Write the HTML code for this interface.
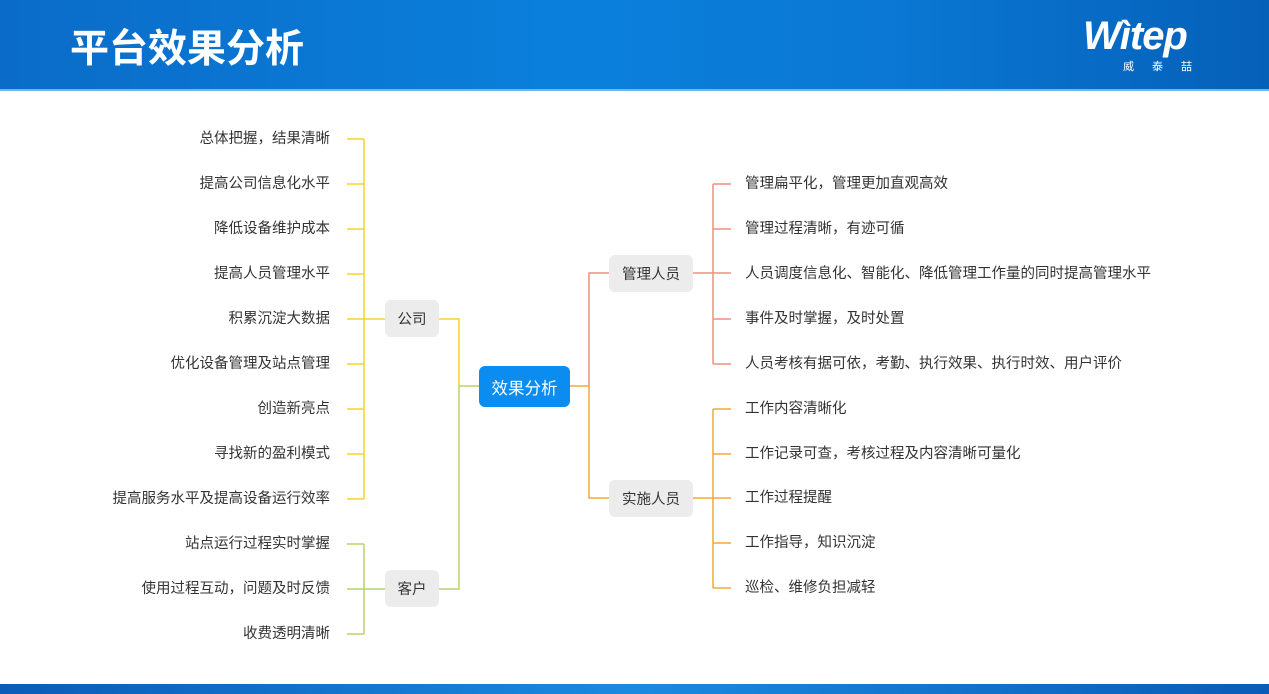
<!DOCTYPE html>
<html><head><meta charset="utf-8"><style>
*{margin:0;padding:0;box-sizing:border-box}
body{width:1269px;height:694px;position:relative;background:#fff;overflow:hidden;font-family:"Liberation Sans","Noto Sans CJK SC",sans-serif;}
.hdr{position:absolute;left:0;top:0;width:1269px;height:91px;background:linear-gradient(90deg,#0a6cc8 0%,#0a80dc 45%,#0a78d4 70%,#0560b8 100%);}
.hdr:after{content:"";position:absolute;left:0;bottom:0;width:100%;height:2px;background:#6fb8ee}
.title{position:absolute;left:70px;top:18px;color:#fff;font-size:39px;font-weight:bold;letter-spacing:0px;font-family:"Noto Sans CJK SC",sans-serif;}
.logo{position:absolute;left:1083px;top:14px;color:#fff;font-size:40px;font-weight:bold;font-style:italic;letter-spacing:-1px}
.logo2{position:absolute;left:1123px;top:58px;color:#fff;font-size:11px;letter-spacing:18px}
.ftr{position:absolute;left:0;top:684px;width:1269px;height:10px;background:linear-gradient(90deg,#0a5cb8,#1a8ae0,#0a5cb8)}
.t{position:absolute;font-size:14.5px;color:#333;line-height:20px;white-space:nowrap}
.l{text-align:right;right:939px}
.r{left:745px}
.box{position:absolute;background:#ececec;border-radius:6px;font-size:14.5px;color:#333;display:flex;align-items:center;justify-content:center}
.ctr{position:absolute;left:479px;top:366px;width:91px;height:41px;background:#0a8cf0;border-radius:6px;color:#fff;font-size:16.5px;display:flex;align-items:center;justify-content:center}
</style></head><body>
<div class="hdr"></div>
<div class="title">平台效果分析</div>
<div class="logo">Wìtep</div>
<div class="logo2">威泰喆</div>
<div class="ftr"></div>
<svg width="1269" height="694" style="position:absolute;left:0;top:0" fill="none" stroke-width="1.5">
<g stroke="#f5d327">
<line x1="364" y1="139" x2="364" y2="499"/>
<path d="M347 139H364M347 184H364M347 229H364M347 274H364M347 319H385M347 364H364M347 409H364M347 454H364M347 499H364"/>
<path d="M439 319H459V386"/>
</g>
<g stroke="#b8d36a">
<line x1="364" y1="544" x2="364" y2="634"/>
<path d="M347 544H364M347 589H385M347 634H364"/>
<path d="M459 386V589H439M459 386H479"/>
</g>
<g stroke="#ef8f80">
<path d="M589 386V273H609"/>
<line x1="713" y1="184" x2="713" y2="364"/>
<path d="M693 273H731M713 184H731M713 229H731M713 319H731M713 364H731"/>
</g>
<g stroke="#f5a833">
<path d="M570 386H589V498H609"/>
<line x1="713" y1="409" x2="713" y2="588"/>
<path d="M693 498H731M713 409H731M713 454H731M713 543H731M713 588H731"/>
</g>
</svg>
<div class="t l" style="top:129px">总体把握，结果清晰</div>
<div class="t l" style="top:174px">提高公司信息化水平</div>
<div class="t l" style="top:219px">降低设备维护成本</div>
<div class="t l" style="top:264px">提高人员管理水平</div>
<div class="t l" style="top:309px">积累沉淀大数据</div>
<div class="t l" style="top:354px">优化设备管理及站点管理</div>
<div class="t l" style="top:399px">创造新亮点</div>
<div class="t l" style="top:444px">寻找新的盈利模式</div>
<div class="t l" style="top:489px">提高服务水平及提高设备运行效率</div>
<div class="t l" style="top:534px">站点运行过程实时掌握</div>
<div class="t l" style="top:579px">使用过程互动，问题及时反馈</div>
<div class="t l" style="top:624px">收费透明清晰</div>
<div class="box" style="left:385px;top:300px;width:54px;height:37px">公司</div>
<div class="box" style="left:385px;top:570px;width:54px;height:37px">客户</div>
<div class="ctr">效果分析</div>
<div class="box" style="left:609px;top:255px;width:84px;height:37px">管理人员</div>
<div class="box" style="left:609px;top:480px;width:84px;height:37px">实施人员</div>
<div class="t r" style="top:174px">管理扁平化，管理更加直观高效</div>
<div class="t r" style="top:219px">管理过程清晰，有迹可循</div>
<div class="t r" style="top:264px">人员调度信息化、智能化、降低管理工作量的同时提高管理水平</div>
<div class="t r" style="top:309px">事件及时掌握，及时处置</div>
<div class="t r" style="top:354px">人员考核有据可依，考勤、执行效果、执行时效、用户评价</div>
<div class="t r" style="top:399px">工作内容清晰化</div>
<div class="t r" style="top:444px">工作记录可查，考核过程及内容清晰可量化</div>
<div class="t r" style="top:488px">工作过程提醒</div>
<div class="t r" style="top:533px">工作指导，知识沉淀</div>
<div class="t r" style="top:578px">巡检、维修负担减轻</div>
</body></html>
